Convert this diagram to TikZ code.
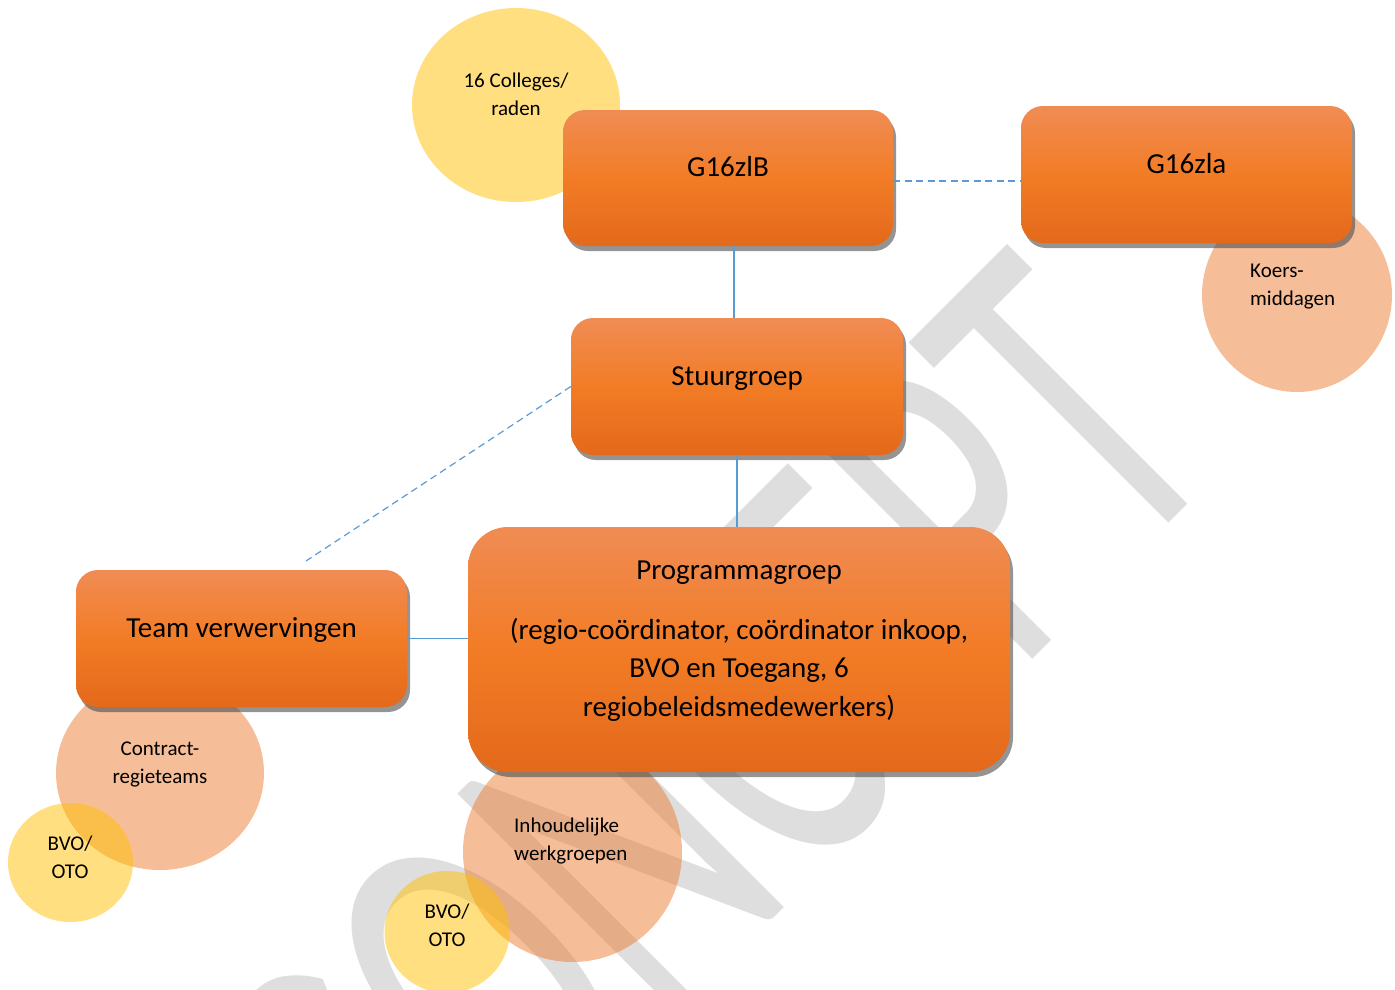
\documentclass[tikz,border=0pt]{standalone}
\usepackage{fontspec}
\setmainfont{Carlito}
\usepackage{tikz}
\usetikzlibrary{shapes.geometric,shadows}
\definecolor{boxtop}{RGB}{240,140,84}
\definecolor{boxmid}{RGB}{242,124,38}
\definecolor{boxbot}{RGB}{228,105,27}
\definecolor{gold}{RGB}{255,192,0}
\definecolor{peach}{RGB}{237,125,49}
\definecolor{linkblue}{RGB}{91,155,213}
\definecolor{wmgray}{RGB}{222,222,222}

\begin{document}
\begin{tikzpicture}[x=1pt, y=-1pt,
    orgbox/.style={rectangle, rounded corners=22pt, top color=boxtop, bottom color=boxbot, middle color=boxmid,
        drop shadow={shadow xshift=3pt, shadow yshift=-5pt, opacity=0.6, fill=black!70},
        minimum width=331pt, minimum height=137pt, inner sep=0pt, font=\fontsize{29}{38.5}\selectfont},
    boxlabel/.style={text height=20pt, text depth=22.4pt},
    yellowblob/.style={ellipse, fill=gold, fill opacity=0.5, inner sep=0pt},
    peachblob/.style={ellipse, fill=peach, fill opacity=0.5, inner sep=0pt},
    blobtext/.style={font=\fontsize{21}{28}\selectfont, align=center, inner sep=0pt},
    link/.style={linkblue, line width=1.2pt},
    dashlink/.style={link, dash pattern=on 7pt off 4.5pt},
    wmark/.style={text=wmgray, font=\fontsize{485}{500}\selectfont, inner sep=0pt}]
    \useasboundingbox (0,0) rectangle (1395,989);

    \node[wmark, rotate=45, anchor=base east] (concept) at (1230,462) {\scalebox{0.62}[1]{CONCEPT}};

    \node[yellowblob, minimum width=208pt, minimum height=194pt] (colleges) at (516,105) {};
    \node[peachblob, minimum width=190pt, minimum height=194pt] (koers) at (1297,295) {};
    \node[peachblob, minimum width=208pt, minimum height=194pt] (contract) at (160,773) {};
    \node[yellowblob, minimum width=125pt, minimum height=119pt] (bvoleft) at (70.5,862.5) {};
    \node[peachblob, minimum width=219pt, minimum height=220pt] (inhoud) at (572.5,852) {};
    \node[yellowblob, minimum width=125pt, minimum height=122pt] (bvomid) at (447,932) {};

    \node[blobtext] (collegestxt) at (516,94) {16 Colleges/\\raden};
    \node[blobtext, align=left, anchor=west] (koerstxt) at (1250,287) {Koers-\\middagen};
    \node[blobtext] (contracttxt) at (160,764) {Contract-\\regieteams};
    \node[blobtext] (bvolefttxt) at (70,857) {BVO/\\OTO};
    \node[blobtext, align=left, anchor=west] (inhoudtxt) at (514,841) {Inhoudelijke\\werkgroepen};
    \node[blobtext] (bvomidtxt) at (447,925) {BVO/\\OTO};

    \node[orgbox, boxlabel, minimum width=330pt, minimum height=136pt] (g16zlb) at (728,178) {G16zlB};
    \node[orgbox, boxlabel] (g16zla) at (1186.5,174.5) {G16zla};
    \node[orgbox, boxlabel, minimum width=332pt] (stuur) at (737,386.5) {Stuurgroep};
    \node[orgbox, boxlabel] (team) at (241.5,638.5) {Team verwervingen};
    \node[orgbox, rounded corners=40pt, minimum width=542pt, minimum height=245pt, align=center] (prog) at (739,649.5)
        {Programmagroep\\[21.5pt](regio-coördinator, coördinator inkoop,\\BVO en Toegang, 6\\regiobeleidsmedewerkers)\rule[-22pt]{0pt}{22pt}};

    \coordinate (teamend) at (306,561);
    \draw[link] ([xshift=-3pt]stuur.north) -- ([xshift=-3pt]stuur.north |- g16zlb.south);
    \draw[link] ([xshift=-2pt]prog.north) -- ([xshift=-2pt]prog.north |- stuur.south);
    \draw[link] (team.east) -- (team.east -| prog.west);
    \draw[dashlink] ([yshift=-3pt]g16zlb.east) -- ([yshift=-3pt]g16zlb.east -| g16zla.west);
    \draw[dashlink] (stuur.west) -- (teamend);
\end{tikzpicture}
\end{document}
